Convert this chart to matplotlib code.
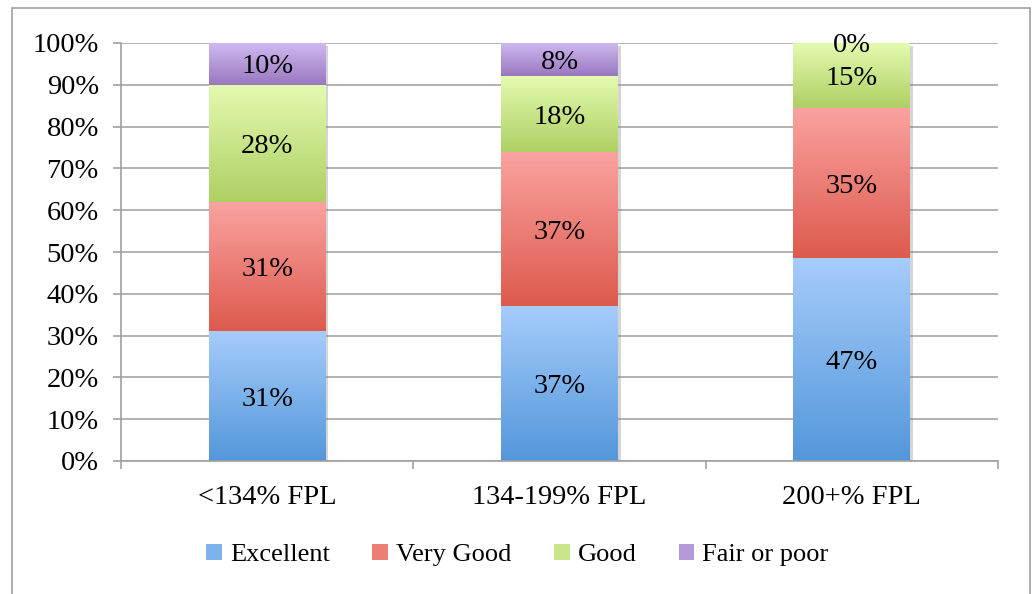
import numpy as np
import matplotlib
matplotlib.use("Agg")
import matplotlib.pyplot as plt
from matplotlib.colors import LinearSegmentedColormap
from matplotlib.patches import Rectangle, Patch
import matplotlib.patheffects as pe

plt.rcParams['font.family'] = ['Liberation Serif', 'DejaVu Serif']

categories = ['<134% FPL', '134-199% FPL', '200+% FPL']
series = ['Excellent', 'Very Good', 'Good', 'Fair or poor']
excellent = [31, 37, 47]
very_good = [31, 37, 35]
good = [28, 18, 15]
fair_poor = [10, 8, 0]
yticks = [0, 10, 20, 30, 40, 50, 60, 70, 80, 90, 100]

# (bottom color, top color) for each series gradient
grad_colors = [('#5397DA', '#A6CCFB'),
               ('#DD5A4D', '#FAA3A0'),
               ('#AFCF63', '#E3FBB0'),
               ('#9877BF', '#CFBAF0')]
legend_colors = ['#7DB2EB', '#EC7E76', '#C9E68A', '#B49AD8']

values = np.array([excellent, very_good, good, fair_poor], dtype=float)
totals = values.sum(axis=0)
shares = values / totals * 100  # 100% stacked

fig = plt.figure(figsize=(10.35, 5.94), dpi=100)
ax = fig.add_axes([121 / 1035, 1 - 461 / 594, (998 - 121) / 1035, (461 - 43) / 594])

# outer chart frame
fig.patches.append(Rectangle((12 / 1035, -0.05), (1030 - 12) / 1035, 1 - 8 / 594 + 0.05,
                             transform=fig.transFigure, fill=False,
                             edgecolor='#A0A0A0', linewidth=1.2))

x = np.arange(len(categories))
grad = np.linspace(0, 1, 256).reshape(-1, 1)
bottom = np.zeros(len(categories))
for i, name in enumerate(series):
    bars = ax.bar(x, shares[i], 0.4, bottom=bottom, color='white', linewidth=0, zorder=2,
                  path_effects=[pe.SimplePatchShadow(offset=(2, -2), shadow_rgbFace='#888888', alpha=0.35),
                                pe.Normal()])
    cmap = LinearSegmentedColormap.from_list(name, grad_colors[i])
    for j, b in enumerate(bars):
        if b.get_height() <= 0:
            continue
        im = ax.imshow(grad, cmap=cmap, origin='lower', aspect='auto', zorder=2.5,
                       extent=[b.get_x(), b.get_x() + b.get_width(), b.get_y(), b.get_y() + b.get_height()])
        im.set_clip_path(b)
    for j, b in enumerate(bars):
        ax.text(b.get_x() + b.get_width() / 2, b.get_y() + b.get_height() / 2,
                f'{int(values[i][j])}%', ha='center', va='center_baseline', fontsize=20.5, zorder=4)
    bottom += shares[i]

ax.set_xlim(-0.5, len(categories) - 0.5)
ax.set_ylim(0, 100)
ax.set_yticks(yticks)
ax.set_yticklabels([f'{t}%' for t in yticks], fontsize=20.5)
ax.set_xticks(x)
ax.set_xticklabels(categories, fontsize=20.5)
ax.set_xticks(np.arange(len(categories) + 1) - 0.5, minor=True)
ax.tick_params(axis='x', which='major', length=0, pad=17)
ax.tick_params(axis='x', which='minor', length=5.5, width=1.2, color='#A0A0A0')
ax.tick_params(axis='y', length=6, width=1.2, color='#A0A0A0', pad=10)
ax.yaxis.grid(True, color='#A6A6A6', linewidth=1.2)
ax.set_axisbelow(True)
for s in ['top', 'right']:
    ax.spines[s].set_visible(False)
for s in ['left', 'bottom']:
    ax.spines[s].set_color('#A0A0A0')
    ax.spines[s].set_linewidth(1.2)

handles = [Patch(facecolor=c, edgecolor='none') for c in legend_colors]
fig.legend(handles, series, loc='center', bbox_to_anchor=(0.5, 1 - 555 / 594), ncol=4,
           frameon=False, fontsize=19, handlelength=0.6, handleheight=0.6,
           handletextpad=0.3, columnspacing=1.6)

fig.savefig('out.png', dpi=100)
